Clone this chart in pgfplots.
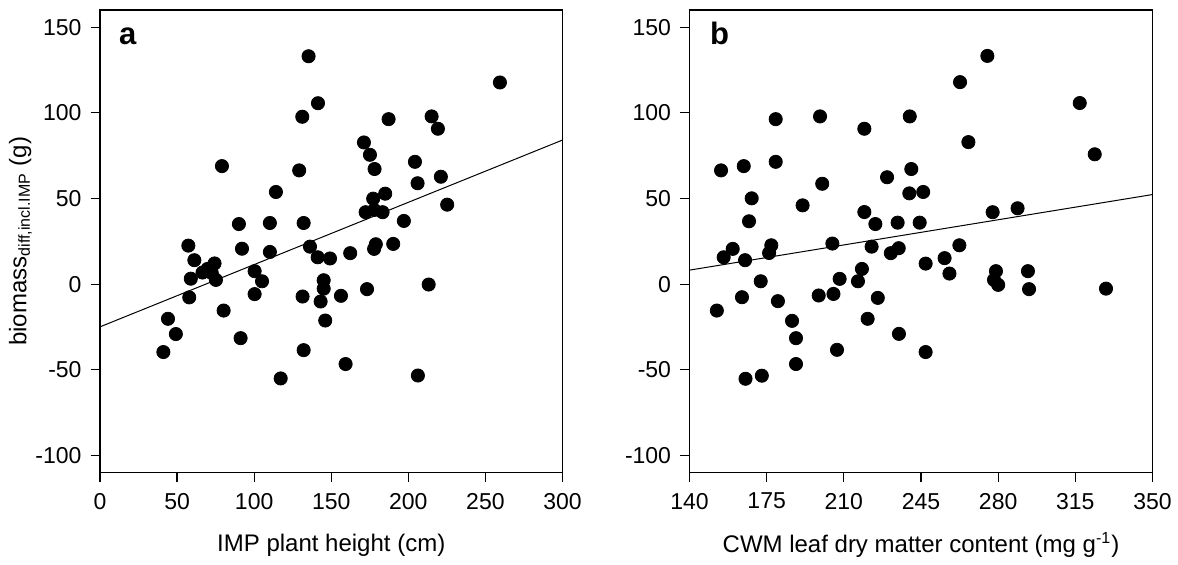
\documentclass[border=0pt]{standalone}
\usepackage{fontspec}
\setmainfont{Liberation Sans}
\usepackage{pgfplots}
\pgfplotsset{compat=1.18}
\begin{document}
\begin{tikzpicture}
\useasboundingbox (0,0) rectangle (589pt,282.5pt);
\pgfplotsset{
  panel/.style={
    scale only axis,
    anchor=south west,
    height=231.35pt,
    ymin=-110, ymax=160,
    ytick={-100,-50,0,50,100,150},
    axis line style={line width=0.6pt},
    tick style={line width=0.6pt, black},
    tick align=outside,
    major tick length=4.7pt,
    xtick pos=bottom, ytick pos=left,
    /pgf/number format/assume math mode=true,
    tick label style={font=\fontsize{11.5}{13}\selectfont},
    xticklabel style={yshift=-2pt},
    yticklabel style={xshift=-1pt},
    label style={font=\fontsize{12}{14}\selectfont},
    scaled ticks=false,
    clip=false,
  },
  dots/.style={only marks, mark=*, mark size=3.3pt, mark options={fill=black, draw=black}},
}
\begin{axis}[panel,
  at={(50pt,46.15pt)}, width=231.25pt,
  xmin=0, xmax=300, xtick={0,50,100,150,200,250,300},
  xlabel={IMP plant height (cm)},
  ylabel={biomass\textsubscript{diff,incl.IMP} (g)},
  xlabel style={at={(axis description cs:0.5,-0.156)}, anchor=center},
  ylabel style={at={(axis description cs:-0.172,0.5)}, anchor=center},
]
\addplot[black, line width=0.5pt] coordinates {(0,-24.9) (300,84.1)};
\addplot[dots] table {
135.3 133.0
141.4 105.6
131.2 97.7
79.1 68.9
129.2 66.4
114.1 53.8
90.1 35.1
110.2 35.7
132.1 35.7
259.4 117.7
187.2 96.3
215.1 97.9
219.2 90.7
171.2 82.7
175.1 75.5
178.1 67.2
204.3 71.4
221.1 62.7
206.0 58.9
185.0 52.8
177.2 49.9
172.3 42.0
177.9 43.3
183.3 42.0
225.2 46.4
197.1 36.9
57.3 22.5
92.1 20.7
110.2 18.8
136.2 21.9
141.2 15.7
149.2 15.0
162.3 18.1
178.9 23.3
177.8 20.6
190.2 23.5
100.3 7.6
105.1 1.7
145.1 2.3
145.1 -2.6
131.4 -7.2
143.1 -10.1
57.9 -7.7
100.3 -5.8
80.2 -15.4
146.1 -21.2
44.1 -20.2
49.2 -29.1
91.2 -31.5
41.1 -39.6
132.1 -38.5
117.2 -55.0
156.3 -6.8
173.2 -2.9
213.2 -0.2
159.3 -46.6
206.2 -53.3
61.2 14.0
58.9 3.2
66.5 6.8
74.3 12.1
75.2 2.5
69.8 8.9
72.5 6.5
};
\node[anchor=base west, font=\fontsize{15.5}{15.5}\selectfont\bfseries] at (rel axis cs:0.026,0.926) {a};
\end{axis}
\begin{axis}[panel,
  at={(344.75pt,46.15pt)}, width=231.5pt,
  xmin=140, xmax=350, xtick={140,175,210,245,280,315,350},
  xlabel={CWM leaf dry matter content (mg g\textsuperscript{-1})},
  xlabel style={at={(axis description cs:0.5,-0.156)}, anchor=center},
]
\addplot[black, line width=0.5pt] coordinates {(140,8.2) (350,52.3)};
\addplot[dots] table {
179.1 96.3
199.2 97.9
219.3 90.7
154.3 66.4
164.6 68.9
179.1 71.4
200.2 58.6
168.2 50.1
191.3 46.0
167.0 36.7
219.3 42.1
224.3 35.1
229.6 62.4
275.1 133.2
262.7 117.9
317.0 105.7
239.9 97.9
266.5 82.9
323.8 75.8
240.6 67.2
239.7 53.0
246.0 53.8
234.4 35.9
244.4 35.9
277.5 42.0
288.8 44.3
155.5 15.7
159.6 20.6
165.2 14.0
177.1 22.7
176.1 18.2
204.8 23.7
222.6 21.9
218.2 8.9
208.1 3.1
216.4 1.7
172.3 1.7
225.4 -8.0
198.6 -6.6
205.3 -5.7
163.8 -7.6
180.1 -9.9
152.4 -15.4
186.5 -21.4
220.8 -20.2
188.3 -31.5
206.9 -38.3
188.3 -46.6
165.4 -55.2
172.8 -53.4
234.9 21.0
231.3 18.1
262.4 22.7
255.7 15.2
247.1 12.0
257.9 6.2
279.0 7.6
278.1 2.5
280.0 -0.4
293.5 7.6
294.0 -2.9
328.9 -2.6
235.0 -29.0
247.1 -39.6
};
\node[anchor=base west, font=\fontsize{15.5}{15.5}\selectfont\bfseries] at (rel axis cs:0.029,0.926) {b};
\end{axis}
\end{tikzpicture}
\end{document}
